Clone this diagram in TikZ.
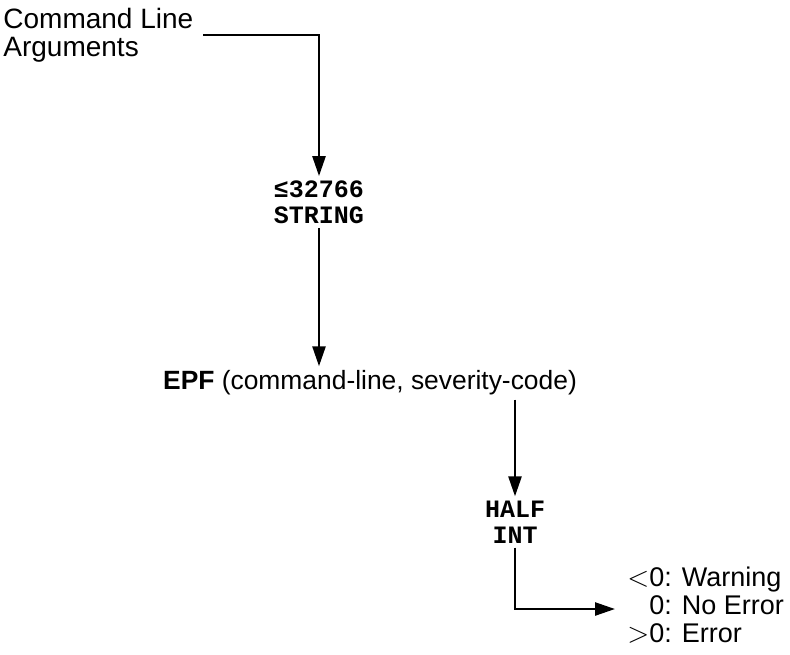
\documentclass[tikz,border=0pt]{standalone}
\usepackage{fontspec}
\setmainfont{Liberation Sans}
\newfontfamily\typefont{Liberation Mono}
\usetikzlibrary{arrows.meta}
\tikzset{
  lbl/.style={inner sep=2pt, font=\fontsize{13.5}{14}\selectfont},
  tlbl/.style={inner sep=2pt, align=center, font=\fontsize{12.5}{13}\selectfont\typefont\bfseries},
  conn/.style={line width=1.25pt, -{Triangle[length=10pt,width=6.5pt]}},
}
\begin{document}
\begin{tikzpicture}[x=0.5pt,y=-0.5pt]
\useasboundingbox (0,0) rectangle (790,654);
\node[lbl, font=\fontsize{14}{14}\selectfont, anchor=north west, align=left, inner sep=0pt] (cla) at (3,8) {Command Line\\Arguments};
\coordinate (s1) at (203,35);
\node[tlbl] (str) at (319,202) {≤32766\\STRING};
\node[lbl, font=\fontsize{13.2}{14}\selectfont] (epf) at (370,383) {\textbf{EPF} (command-line, severity-code)};
\node[tlbl] (half) at (515,522) {HALF\\INT};
\node[lbl, anchor=west, inner sep=0pt] (codes) at (627,609)
  {\begin{tabular}{@{}r@{ }l@{}}$<$0: & Warning\\0: & No Error\\$>$0: & Error\end{tabular}};
\draw[conn] (s1) -| (str.north);
\draw[conn] (str.south) -- (str.south |- epf.north);
\draw[conn] (half.north |- epf.south) -- (half.north);
\draw[conn, shorten >=6pt] (half.south) |- (codes.west);
\end{tikzpicture}
\end{document}
